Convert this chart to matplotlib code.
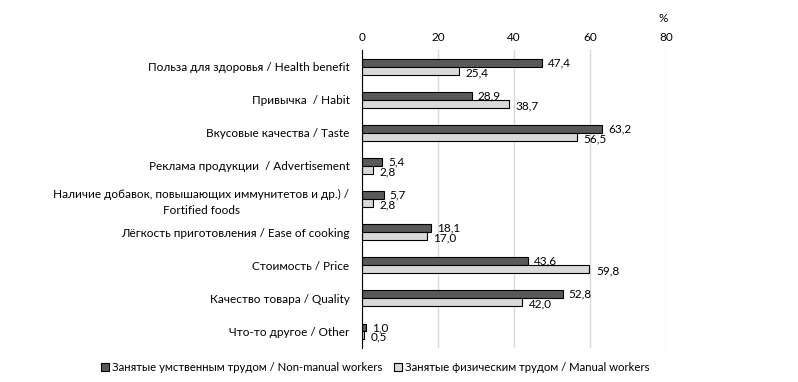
import numpy as np
import matplotlib.pyplot as plt

categories = [
    "Польза для здоровья / Health benefit",
    "Привычка  / Habit",
    "Вкусовые качества / Taste",
    "Реклама продукции  / Advertisement",
    "Наличие добавок, повышающих иммунитетов и др.) /\nFortified foods",
    "Лёгкость приготовления / Ease of cooking",
    "Стоимость / Price",
    "Качество товара / Quality",
    "Что-то другое / Other",
]
non_manual = [47.4, 28.9, 63.2, 5.4, 5.7, 18.1, 43.6, 52.8, 1.0]
manual = [25.4, 38.7, 56.5, 2.8, 2.8, 17.0, 59.8, 42.0, 0.5]
xticks = [0, 20, 40, 60, 80]

plt.rcParams['font.family'] = ['Lato', 'DejaVu Sans']
fs = 8.5

fig = plt.figure(figsize=(7.98, 3.82), dpi=100)
ax = fig.add_axes([0.4536, 0.089, 0.381, 0.78])

y = np.arange(len(categories))
h = 0.24
ax.barh(y - h / 2, non_manual, height=h, color='#595959', edgecolor='black', linewidth=0.8,
        label='Занятые умственным трудом / Non-manual workers', zorder=3)
ax.barh(y + h / 2, manual, height=h, color='#d9d9d9', edgecolor='black', linewidth=0.8,
        label='Занятые физическим трудом / Manual workers', zorder=3)

for yi, a, b in zip(y, non_manual, manual):
    ax.text(a + 1.6, yi - h / 2, f"{a:.1f}".replace('.', ','), va='center', ha='left', fontsize=fs)
    ax.text(b + 1.8, yi + h / 2 + 0.06, f"{b:.1f}".replace('.', ','), va='center', ha='left', fontsize=fs)

ax.set_xlim(0, 80)
ax.set_ylim(len(categories) - 0.5, -0.5)
ax.set_xticks(xticks)
ax.xaxis.tick_top()
ax.tick_params(axis='x', length=0, labelsize=fs, pad=5)
ax.set_yticks(y)
ax.set_yticklabels(categories, fontsize=fs, linespacing=1.5, multialignment='center')
ax.tick_params(axis='y', length=0, pad=9)
ax.grid(axis='x', color='#d9d9d9', linewidth=1, zorder=0)
for s in ['top', 'right', 'bottom']:
    ax.spines[s].set_visible(False)
ax.spines['left'].set_color('black')
ax.spines['left'].set_zorder(4)

fig.text(0.831, 0.952, '%', ha='center', va='center', fontsize=fs)

fig.legend(loc='center', bbox_to_anchor=(0.47, 0.037), ncol=2, frameon=False, fontsize=8.2,
           handlelength=0.7, handleheight=0.7, handletextpad=0.3, columnspacing=1.0)

fig.savefig('out.png', dpi=100)
